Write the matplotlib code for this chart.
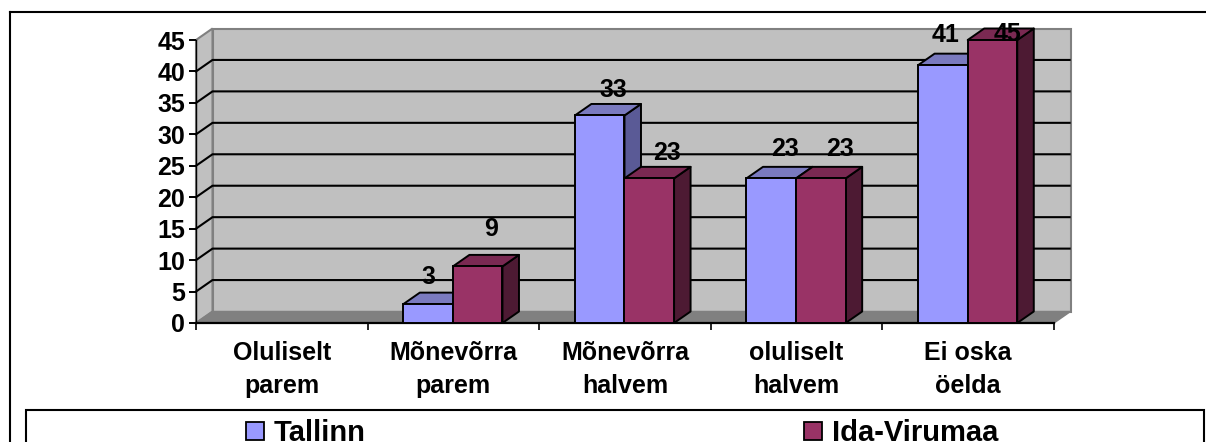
import numpy as np
import matplotlib
matplotlib.use("Agg")
import matplotlib.pyplot as plt
from matplotlib.patches import Polygon, Rectangle

categories = ["Oluliselt\nparem", "Mõnevõrra\nparem", "Mõnevõrra\nhalvem", "oluliselt\nhalvem", "Ei oska\nöelda"]
series_names = ["Tallinn", "Ida-Virumaa"]
tallinn = [None, 3, 33, 23, 41]
ida_virumaa = [None, 9, 23, 23, 45]
y_ticks = [0, 5, 10, 15, 20, 25, 30, 35, 40, 45]

W, H = 1206, 442
x0, x1, y0, y1 = 196, 1054, 323, 40
plt.rcParams["font.family"] = ["Liberation Sans", "DejaVu Sans"]
plt.rcParams["font.weight"] = "bold"

fig = plt.figure(figsize=(W / 100, H / 100), dpi=100)
ax = fig.add_axes([x0 / W, 1 - y0 / H, (x1 - x0) / W, (y0 - y1) / H])
ax.set_xlim(0, 5)
ax.set_ylim(0, 45)
ax.patch.set_visible(False)
for s in ["top", "right"]:
    ax.spines[s].set_visible(False)
ax.spines["left"].set_linewidth(1.0)
ax.spines["bottom"].set_linewidth(1.6)

# depth of the fake 3d box, in data units
dx = 16.5 / ((x1 - x0) / 5)
dy = 11.5 / ((y0 - y1) / 45)

# walls
ax.add_patch(Polygon([(dx, dy), (5 + dx, dy), (5 + dx, 45 + dy), (dx, 45 + dy)], fc="#C0C0C0", ec="#808080", lw=1.5, clip_on=False, zorder=1))
ax.add_patch(Polygon([(0, 0), (dx, dy), (dx, 45 + dy), (0, 45)], fc="#C0C0C0", ec="#808080", lw=1.5, clip_on=False, zorder=1))
ax.add_patch(Polygon([(0, 0), (5, 0), (5 + dx, dy), (dx, dy)], fc="#808080", ec="#808080", lw=1, clip_on=False, zorder=1))

# gridlines
for v in y_ticks[1:-1]:
    ax.plot([0, dx, 5 + dx - 0.005], [v, v + dy, v + dy], color="black", lw=1.5, clip_on=False, zorder=2)


def bar3d(left, width, h, col, top, side):
    ax.add_patch(Polygon([(left + width, 0), (left + width + dx, dy), (left + width + dx, h + dy), (left + width, h)], fc=side, ec="black", lw=1.4, clip_on=False, zorder=3, joinstyle="round"))
    ax.add_patch(Polygon([(left, h), (left + width, h), (left + width + dx, h + dy), (left + dx, h + dy)], fc=top, ec="black", lw=1.4, clip_on=False, zorder=3, joinstyle="round"))
    ax.add_patch(Rectangle((left, 0), width, h, fc=col, ec="black", lw=1.4, clip_on=False, zorder=4))


bw = 0.289
start = 0.208
for i in range(5):
    if tallinn[i] is not None:
        bar3d(i + start, bw, tallinn[i], "#9999FF", "#7A7ABF", "#5A5A96")
    if ida_virumaa[i] is not None:
        bar3d(i + start + bw, bw, ida_virumaa[i], "#993366", "#7A2952", "#4D1A33")

# value labels were moved by hand in the original, shifts are in pixels
shift_t = [None, (0, 27), (14, 25), (14, 29), (3, 30)]
shift_i = [None, (13, 37), (18, 25), (19, 29), (15, 6)]
for i in range(1, 5):
    for vals, sh, off in [(tallinn, shift_t, 0.5), (ida_virumaa, shift_i, 1.5)]:
        ax.annotate(str(vals[i]), (i + start + off * bw, vals[i]), xytext=sh[i], textcoords="offset pixels",
                    ha="center", va="center", fontsize=18, annotation_clip=False, zorder=6)

ax.set_yticks(y_ticks)
ax.set_xticks(range(6))
ax.set_xticklabels([])
ax.tick_params(axis="y", length=5, width=1.4, labelsize=18, pad=3)
ax.tick_params(axis="x", length=5, width=1.2)
for i, c in enumerate(categories):
    ax.annotate(c, (i + 0.5, 0), xytext=(0, -18), textcoords="offset pixels", ha="center", va="top",
                fontsize=18, linespacing=1.45, annotation_clip=False)

# outer frame and the legend box, which runs off the bottom of the picture
fig.add_artist(plt.Line2D([9.5 / W, 1], [1 - 12 / H, 1 - 12 / H], color="black", lw=1.5))
fig.add_artist(plt.Line2D([9.5 / W, 9.5 / W], [1 - 12 / H, 0], color="black", lw=1.5))
fig.add_artist(Rectangle((25.5 / W, -10 / H), 1178.5 / W, (10 + 442 - 410) / H, transform=fig.transFigure, fc="white", ec="black", lw=1.5))
for name, col, mx in zip(series_names, ["#9999FF", "#993366"], [246, 804]):
    fig.add_artist(Rectangle((mx / W, 1 - 440 / H), 18 / W, 18 / H, transform=fig.transFigure, fc=col, ec="black", lw=1.3))
    fig.text((mx + 28) / W, 1 - 441 / H, name, fontsize=21, va="baseline", ha="left")

fig.savefig("out.png", dpi=100)
